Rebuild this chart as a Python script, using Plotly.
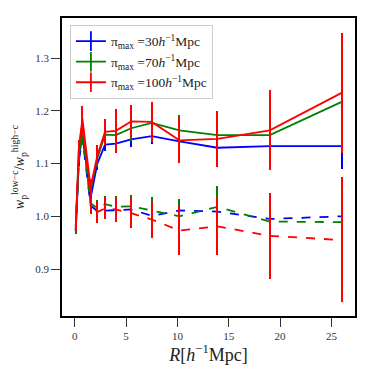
# Razão w_p low-c / high-c para três valores de pi_max
import plotly.graph_objects as go

# Separação projetada R [h^-1 Mpc]
r = [0.1, 0.4, 0.75, 1.55, 2.2, 2.95, 4.0, 5.5, 7.5, 10.2, 13.9, 19.0, 26.0]

# Curvas sólidas
azul_solido = [0.972, 1.11, 1.155, 1.035, 1.10, 1.136, 1.138, 1.146, 1.152, 1.142, 1.130, 1.133, 1.133]
verde_solido = [0.975, 1.12, 1.16, 1.05, 1.11, 1.155, 1.154, 1.167, 1.177, 1.163, 1.154, 1.154, 1.217]
vermelho_solido = [0.98, 1.13, 1.185, 1.055, 1.115, 1.160, 1.162, 1.180, 1.179, 1.144, 1.147, 1.163, 1.234]

# Curvas tracejadas
azul_tracejado = [0.972, 1.105, 1.15, 1.02, 1.01, 1.011, 1.011, 1.013, 1.001, 1.011, 1.009, 0.995, 1.000]
verde_tracejado = [0.975, 1.115, 1.155, 1.025, 1.015, 1.023, 1.018, 1.019, 1.011, 1.000, 1.018, 0.990, 0.989]
vermelho_tracejado = [0.98, 1.125, 1.18, 1.02, 1.008, 1.015, 1.013, 1.006, 0.994, 0.973, 0.981, 0.963, 0.955]

# Barras de erro
erro_azul_solido = [0.006, 0.01, 0.015, 0.01, 0.012, 0.012, 0.012, 0.014, 0.015, 0.018, 0.025, 0.035, 0.043]
erro_verde_solido = [0.008, 0.012, 0.02, 0.012, 0.016, 0.02, 0.03, 0.025, 0.03, 0.03, 0.04, 0.06, 0.09]
erro_vermelho_solido = [0.01, 0.015, 0.025, 0.015, 0.02, 0.025, 0.042, 0.031, 0.038, 0.043, 0.053, 0.076, 0.114]
erro_azul_tracejado = [0.006, 0.01, 0.015, 0.01, 0.01, 0.01, 0.012, 0.014, 0.015, 0.018, 0.025, 0.035, 0.05]
erro_verde_tracejado = [0.008, 0.012, 0.02, 0.012, 0.016, 0.016, 0.02, 0.022, 0.026, 0.032, 0.039, 0.055, 0.085]
erro_vermelho_tracejado = [0.01, 0.015, 0.025, 0.015, 0.02, 0.02, 0.023, 0.028, 0.035, 0.046, 0.055, 0.081, 0.118]

rotulos = [
    'π<sub>max</sub> =30<i>h</i><sup>−1</sup>Mpc',
    'π<sub>max</sub> =70<i>h</i><sup>−1</sup>Mpc',
    'π<sub>max</sub> =100<i>h</i><sup>−1</sup>Mpc',
]
cores = ['#0000ff', '#008000', '#ff0000']

series = [
    (azul_solido, erro_azul_solido, azul_tracejado, erro_azul_tracejado),
    (verde_solido, erro_verde_solido, verde_tracejado, erro_verde_tracejado),
    (vermelho_solido, erro_vermelho_solido, vermelho_tracejado, erro_vermelho_tracejado),
]

fig = go.Figure()

for (ys, es, yd, ed), cor in zip(series, cores):
    fig.add_trace(go.Scatter(
        x=r, y=ys, mode='lines', showlegend=False,
        line=dict(color=cor, width=1.8),
        error_y=dict(type='data', array=es, color=cor, thickness=2, width=0),
    ))
    fig.add_trace(go.Scatter(
        x=r, y=yd, mode='lines', showlegend=False,
        line=dict(color=cor, width=1.8, dash='dash'),
        error_y=dict(type='data', array=ed, color=cor, thickness=2, width=0),
    ))

# Entradas da legenda com o símbolo "+"
for rotulo, cor in zip(rotulos, cores):
    fig.add_trace(go.Scatter(
        x=[None], y=[None], mode='lines+markers', name=rotulo,
        line=dict(color=cor, width=1.8),
        marker=dict(symbol='line-ns-open', size=14, line=dict(color=cor, width=1.8)),
    ))

eixo = dict(
    showgrid=False, zeroline=False, showline=True, mirror=True, automargin=False,
    linecolor='black', linewidth=1.6,
    ticks='outside', ticklen=9, tickwidth=1, tickcolor='#333333',
    tickfont=dict(size=11, color='#333333'),
)

fig.update_layout(
    width=374, height=373,
    margin=dict(l=62, r=19, t=18, b=57),
    plot_bgcolor='white', paper_bgcolor='white',
    font=dict(family='Liberation Serif', color='#222222'),
    xaxis=dict(
        eixo, range=[-1.24, 27.3], tickvals=[0, 5, 10, 15, 20, 25],
        title=dict(text='<i>R</i>[<i>h</i><sup>−1</sup>Mpc]', font=dict(size=18), standoff=4),
    ),
    yaxis=dict(
        eixo, range=[0.811, 1.376], tickvals=[0.9, 1.0, 1.1, 1.2, 1.3], tickformat='.1f',
        title=dict(text='<i>w</i><sub>p</sub><sup>low−c</sup>/<i>w</i><sub>p</sub><sup>high−c</sup>',
                   font=dict(size=14), standoff=7),
    ),
    legend=dict(
        x=0.027, y=0.977, xanchor='left', yanchor='top',
        bgcolor='rgba(255,255,255,0.85)', bordercolor='#cccccc', borderwidth=1,
        font=dict(size=13.5), tracegroupgap=0, itemwidth=30,
    ),
)

# Sem margem na página e barras de erro alinhadas aos pixels (vermelho cobre os outros)
ajuste = """
document.body.style.margin = '0';
document.querySelectorAll('.errorbar path').forEach(function (p) {
    p.style.shapeRendering = 'crispEdges';
});
"""

fig.write_html('out.html', post_script=ajuste, config={'displayModeBar': False})
